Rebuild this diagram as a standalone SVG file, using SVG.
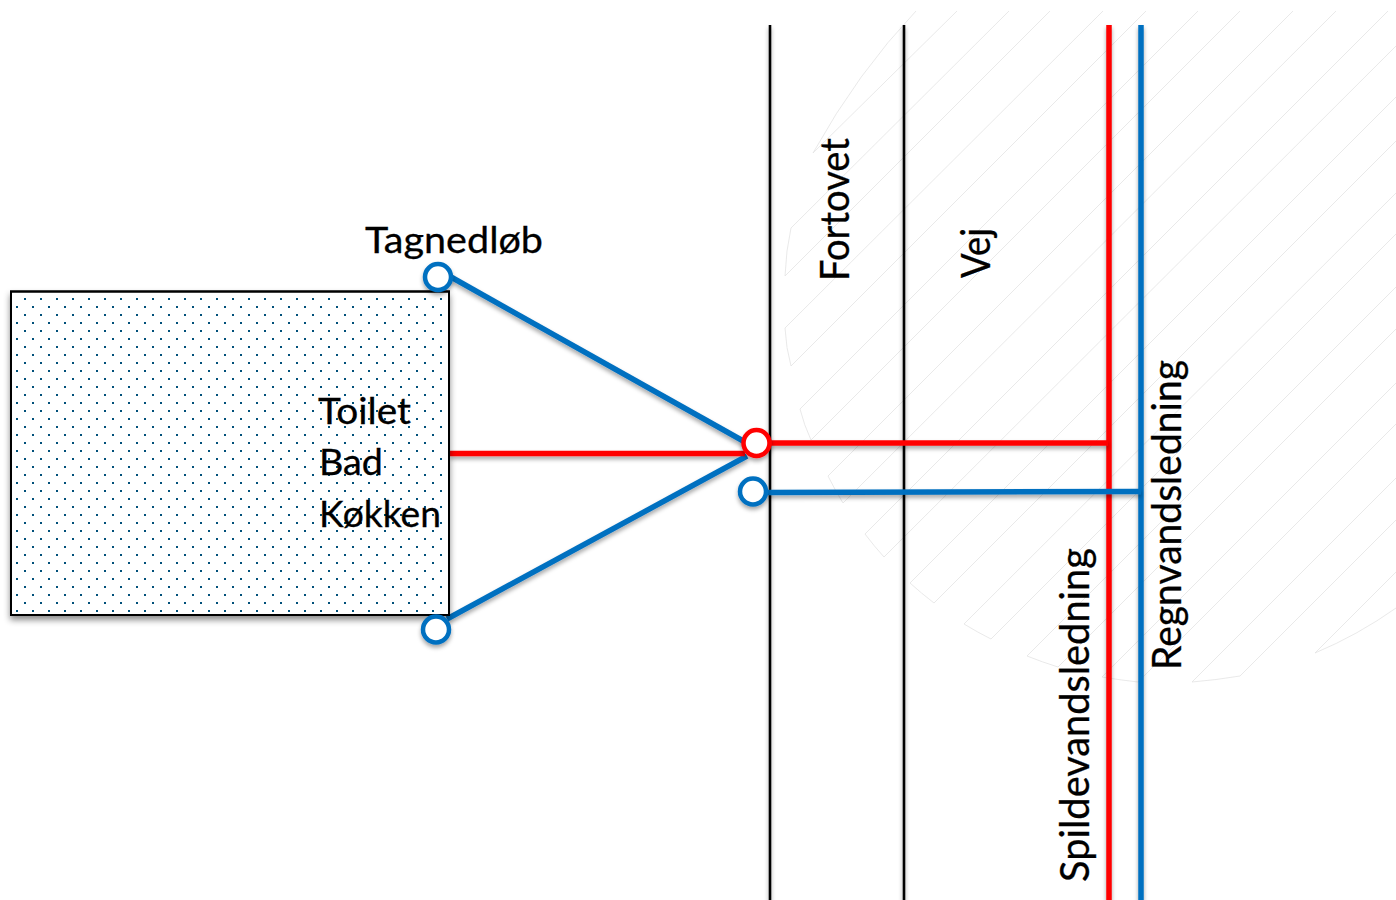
<svg xmlns="http://www.w3.org/2000/svg" width="1396" height="900" viewBox="0 0 1396 900">
<style>
text{font-family:"Lato","Liberation Sans",sans-serif;font-size:37px;fill:#000;stroke:#000;stroke-width:.3}
.v{font-size:40px}
.hatch path{fill:none;stroke:#e3e3e3;stroke-width:.8}
.k{stroke:#000;stroke-width:2.6;fill:none}
.r{stroke:#f00;stroke-width:5.5;fill:none}
.b{stroke:#0070c0;stroke-width:5.5;fill:none}
.cb{stroke:#0070c0;stroke-width:4.5;fill:#fff}
.cr{stroke:#f00;stroke-width:4.5;fill:#fff}
</style>
<defs>
<pattern id="dots" patternUnits="userSpaceOnUse" width="16" height="16">
<rect x="0" y="2" width="2" height="2" fill="#00507a"/>
<rect x="8" y="10" width="2" height="2" fill="#00507a"/>
</pattern>
<filter id="sh" filterUnits="userSpaceOnUse" x="0" y="0" width="1396" height="900">
<feDropShadow dx="0" dy="3" stdDeviation="2" flood-color="#000" flood-opacity=".35"/>
</filter>
<filter id="shb" filterUnits="userSpaceOnUse" x="0" y="0" width="1396" height="900">
<feDropShadow dx="0" dy="4" stdDeviation="3" flood-color="#000" flood-opacity=".45"/>
</filter>
</defs>
<g id="hatching" class="hatch">
<path d="M916 11Q858 72 813 153L957 11"/>
<path d="M1009 11L791 228Q786 250 785 276L1050 11"/>
<path d="M1103 11L785 328Q786 348 791 366L1146 11"/>
<path d="M1198 11L800 409Q804 425 811 440L1240 11"/>
<path d="M1293 11L828 476Q835 490 843 503L1336 11"/>
<path d="M1388 11L865 534Q874 546 884 557L1396 46"/>
<path d="M1396 97L910 583Q921 593 934 603L1396 141"/>
<path d="M1396 193L964 624Q977 632 991 639L1396 234"/>
<path d="M1396 287L1027 656Q1042 662 1058 667L1396 329"/>
<path d="M1396 383L1102 677Q1120 680 1138 682L1396 424"/>
<path d="M1396 478L1192 682Q1216 680 1240 676L1396 520"/>
<path d="M1396 572L1315 653Q1358 635 1396 608"/>
</g>
<g id="connectors">
<g filter="url(#sh)">
<line class="k" x1="770" y1="25" x2="770" y2="900"/>
<line class="k" x1="904" y1="25" x2="904" y2="900"/>
<line class="r" x1="1109" y1="25" x2="1109" y2="900"/>
<line class="b" x1="1141" y1="25" x2="1141" y2="900"/>
</g>
<g filter="url(#sh)">
<line class="b" x1="451" y1="277" x2="745" y2="442"/>
<line class="b" x1="447" y1="619" x2="747" y2="456"/>
<line class="r" x1="450" y1="453.5" x2="745" y2="453.5"/>
<line class="r" x1="770" y1="443" x2="1108" y2="443"/>
<line class="b" x1="766" y1="492.5" x2="1141" y2="491.5"/>
</g>
</g>
<g id="house">
<rect x="11" y="291.5" width="438" height="323.5" fill="#fff" stroke="#000" stroke-width="2" filter="url(#shb)"/>
<rect x="11" y="291.5" width="438" height="323.5" fill="url(#dots)" stroke="#000" stroke-width="2"/>
</g>
<g id="label-toilet"><text x="318" y="424" textLength="93" lengthAdjust="spacingAndGlyphs">Toilet</text></g>
<g id="label-bad"><text x="319" y="475" textLength="64" lengthAdjust="spacingAndGlyphs">Bad</text></g>
<g id="label-kokken"><text x="319" y="527" textLength="122" lengthAdjust="spacingAndGlyphs">Køkken</text></g>
<g id="label-tagnedlob"><text x="365" y="253" textLength="178" lengthAdjust="spacingAndGlyphs">Tagnedløb</text></g>
<g id="node-top" filter="url(#sh)"><circle class="cb" cx="438" cy="277" r="13"/></g>
<g id="node-bottom" filter="url(#sh)"><circle class="cb" cx="436" cy="629.5" r="13"/></g>
<g id="node-red" filter="url(#sh)"><circle class="cr" cx="756.5" cy="443" r="13"/></g>
<g id="node-blue" filter="url(#sh)"><circle class="cb" cx="753" cy="491.5" r="13"/></g>
<g id="label-fortovet"><text class="v" transform="translate(848.5 281) rotate(-90)" textLength="143" lengthAdjust="spacingAndGlyphs">Fortovet</text></g>
<g id="label-vej"><text class="v" transform="translate(990 278) rotate(-90)" textLength="50" lengthAdjust="spacingAndGlyphs">Vej</text></g>
<g id="label-spildevand"><text class="v" transform="translate(1088.5 882) rotate(-90)" textLength="334" lengthAdjust="spacingAndGlyphs">Spildevandsledning</text></g>
<g id="label-regnvand"><text class="v" transform="translate(1181 670) rotate(-90)" textLength="310" lengthAdjust="spacingAndGlyphs">Regnvandsledning</text></g>
</svg>
